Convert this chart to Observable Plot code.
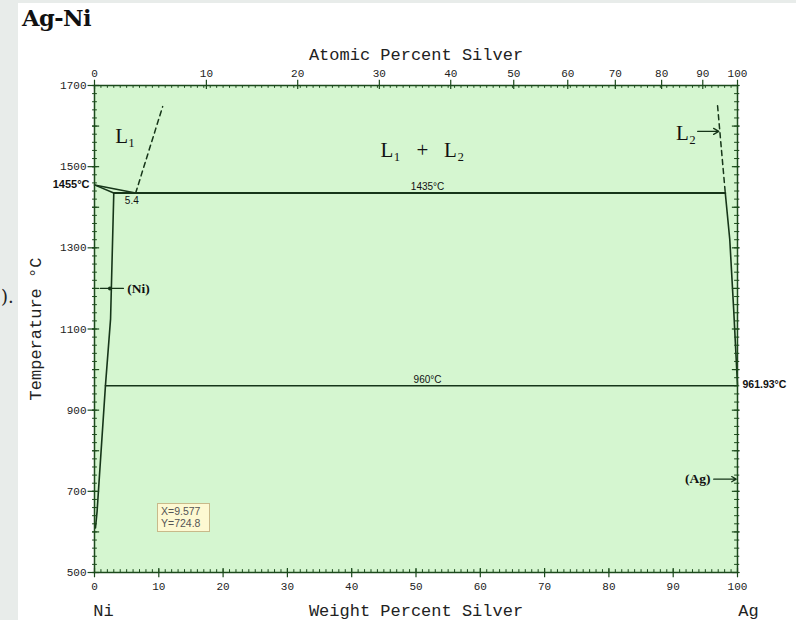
<!DOCTYPE html>
<html>
<head>
<meta charset="utf-8">
<script src="https://cdn.jsdelivr.net/npm/d3@7"></script>
<script src="https://cdn.jsdelivr.net/npm/@observablehq/plot@0.6"></script>
<style>
  html, body { margin: 0; padding: 0; background: #ffffff; }
  #wrap { position: relative; width: 796px; height: 620px; overflow: hidden; background: #ffffff; }
  #strip { position: absolute; left: 0; top: 0; width: 18px; height: 620px; background: #e8ecea; }
  #strip2 { position: absolute; left: 0; top: 0; width: 796px; height: 3px; background: #e8ecea; }
  #frag { position: absolute; left: 1px; top: 286px; font: 18px "DejaVu Serif"; color: #222; }
  #title { position: absolute; left: 22px; top: 5px; font: bold 22.5px "DejaVu Serif"; color: #111; letter-spacing: -0.5px; }
  #tip { position: absolute; left: 157px; top: 503px; width: 45px; padding: 2px 3px; background: #fdf9d2; border: 1px solid #c8b98a;
         font: 10.5px "Liberation Sans"; line-height: 11.5px; color: #555; }
  #chart { position: absolute; left: 0; top: 0; }
</style>
</head>
<body>
<div id="wrap">
  <div id="strip"></div>
  <div id="strip2"></div>
  <div id="frag">).</div>
  <div id="chart"></div>
  <div id="title">Ag-Ni</div>
  <div id="tip">X=9.577<br>Y=724.8</div>
</div>
<script>
// ---- axis ticks and labels ----
const wtTicks = [0, 10, 20, 30, 40, 50, 60, 70, 80, 90, 100];
const tempLabels = [500, 700, 900, 1100, 1300, 1500, 1700];
const tempMajor = [500, 600, 700, 800, 900, 1000, 1100, 1200, 1300, 1400, 1500, 1600, 1700];
const atomicLabels = [0, 10, 20, 30, 40, 50, 60, 70, 80, 90, 100];
const atomicAtWt = [0, 17.4, 31.6, 44.3, 55.4, 65.2, 73.6, 81.0, 88.2, 94.6, 100];

// ---- phase boundaries (weight % Ag, °C) ----
const niLiquidus = [[0, 1455], [6.4, 1435]];
const niSolidus = [[0, 1455], [3.0, 1435]];
const l1Boundary = [[6.4, 1435], [10.6, 1648]];
const monotectic = [[3.0, 1435], [98.1, 1435]];
const eutectic = [[1.7, 960], [100, 960]];
const niSolvus = [[3.0, 1435], [2.5, 1125], [1.7, 960], [0.4, 650], [0.15, 610]];
const l2Boundary = [[96.9, 1650], [98.1, 1435]];
const agLiquidus = [[98.1, 1435], [98.8, 1320], [99.4, 1150], [100, 962]];

// ---- annotations ----
const niPoint = [[4.5, 1200], [2.4, 1200], [0.9, 1200]];
const l2Arrow = [[93.8, 1587], [97.1, 1587]];
const agArrow = [[96.3, 730], [99.8, 730]];

const frameColor = "#1c4a1c";
const lineColor = "#163519";
const mono = "Liberation Mono";
const serif = "Liberation Serif, DejaVu Serif";
const sans = "Liberation Sans";

const xs = d => d[0], ys = d => d[1];

const chart = Plot.plot({
  width: 796,
  height: 620,
  marginLeft: 94,
  marginRight: 59,
  marginTop: 85,
  marginBottom: 48,
  style: { background: "transparent", overflow: "visible" },
  x: { domain: [0, 100], axis: null },
  y: { domain: [500, 1700], axis: null },
  marks: [
    Plot.frame({ fill: "#d5f6d0", stroke: "none" }),
    // boundaries
    Plot.line(niLiquidus, { x: xs, y: ys, stroke: lineColor, strokeWidth: 1.5 }),
    Plot.line(niSolidus, { x: xs, y: ys, stroke: lineColor, strokeWidth: 1.5 }),
    Plot.line(l1Boundary, { x: xs, y: ys, stroke: lineColor, strokeWidth: 1.5, strokeDasharray: "5,4" }),
    Plot.line(monotectic, { x: xs, y: ys, stroke: lineColor, strokeWidth: 2 }),
    Plot.line(eutectic, { x: xs, y: ys, stroke: lineColor, strokeWidth: 1.6 }),
    Plot.line(niSolvus, { x: xs, y: ys, stroke: lineColor, strokeWidth: 1.6 }),
    Plot.line(l2Boundary, { x: xs, y: ys, stroke: lineColor, strokeWidth: 1.5, strokeDasharray: "5,4" }),
    Plot.line(agLiquidus, { x: xs, y: ys, stroke: lineColor, strokeWidth: 1.6 }),
    // annotation arrows
    Plot.line(niPoint, { x: xs, y: ys, stroke: lineColor, strokeWidth: 1.2 }),
    Plot.dot([niPoint[1]], { x: xs, y: ys, r: 2, fill: lineColor }),
    Plot.arrow([l2Arrow], { x1: d => d[0][0], y1: d => d[0][1], x2: d => d[1][0], y2: d => d[1][1], stroke: lineColor, strokeWidth: 1.3, headLength: 7 }),
    Plot.arrow([agArrow], { x1: d => d[0][0], y1: d => d[0][1], x2: d => d[1][0], y2: d => d[1][1], stroke: lineColor, strokeWidth: 1.3, headLength: 6 }),
    // frame
    Plot.frame({ stroke: frameColor, strokeWidth: 1.5 }),
    // bottom ticks
    Plot.ruleX(d3.range(0, 101, 1), { y1: 500, y2: 507, stroke: frameColor, strokeWidth: 1 }),
    Plot.ruleX(wtTicks, { y1: 487, y2: 510, stroke: frameColor, strokeWidth: 1.2 }),
    // top ticks
    Plot.ruleX(d3.range(0, 101, 1), { y1: 1700, y2: 1693, stroke: frameColor, strokeWidth: 1 }),
    Plot.ruleX(atomicAtWt, { y1: 1690, y2: 1713, stroke: frameColor, strokeWidth: 1.2 }),
    // left ticks
    Plot.ruleY(d3.range(500, 1701, 20), { x1: -0.3, x2: 0.45, stroke: frameColor, strokeWidth: 1 }),
    Plot.ruleY(tempMajor, { x1: -0.3, x2: 0.8, stroke: frameColor, strokeWidth: 1.2 }),
    Plot.ruleY(tempLabels, { x1: -1.0, x2: 0, stroke: frameColor, strokeWidth: 1.2 }),
    // right ticks
    Plot.ruleY(d3.range(500, 1701, 20), { x1: 99.55, x2: 100.35, stroke: frameColor, strokeWidth: 1 }),
    Plot.ruleY(tempMajor, { x1: 99.2, x2: 100.4, stroke: frameColor, strokeWidth: 1.2 }),
    // tick labels
    Plot.text(tempLabels, { x: 0, y: d => d, text: d => String(d), dx: -8, textAnchor: "end", fontFamily: mono, fontSize: 11, fill: "#222" }),
    Plot.text(wtTicks, { x: d => d, y: 500, text: d => String(d), dy: 14, fontFamily: mono, fontSize: 11, fill: "#222" }),
    Plot.text(atomicLabels, { x: (d, i) => atomicAtWt[i], y: 1700, text: d => String(d), dy: -12, fontFamily: mono, fontSize: 11, fill: "#222" }),
    // axis titles
    Plot.text(["Atomic Percent Silver"], { x: 50, y: 1700, dy: -31, fontFamily: mono, fontSize: 17, fill: "#222" }),
    Plot.text(["Weight Percent Silver"], { x: 50, y: 500, dy: 38, fontFamily: mono, fontSize: 17, fill: "#222" }),
    Plot.text(["Temperature °C"], { x: 0, y: 1100, dx: -59, rotate: -90, fontFamily: mono, fontSize: 17, fill: "#222" }),
    Plot.text(["Ni"], { x: 1.4, y: 500, dy: 38, fontFamily: mono, fontSize: 17, fill: "#222" }),
    Plot.text(["Ag"], { x: 101.7, y: 500, dy: 38, fontFamily: mono, fontSize: 17, fill: "#222" }),
    // temperature annotations
    Plot.text(["1455°C"], { x: 0, y: 1455, dx: -5, textAnchor: "end", fontFamily: sans, fontWeight: "bold", fontSize: 11, fill: "#111" }),
    Plot.text(["961.93°C"], { x: 100, y: 962, dx: 5, textAnchor: "start", fontFamily: sans, fontWeight: "bold", fontSize: 10.5, fill: "#111" }),
    Plot.text(["1435°C"], { x: 51.8, y: 1435, dy: -6, fontFamily: sans, fontSize: 10, fill: "#111" }),
    Plot.text(["960°C"], { x: 51.8, y: 960, dy: -6, fontFamily: sans, fontSize: 10, fill: "#111" }),
    Plot.text(["5.4"], { x: 5.8, y: 1435, dy: 8, fontFamily: sans, fontSize: 10, fill: "#111" }),
    // phase labels
    Plot.text(["L₁"], { x: 4.8, y: 1574, fontFamily: serif, fontSize: 21, fill: "#111" }),
    Plot.text(["L₁   +   L₂"], { x: 51, y: 1540, fontFamily: serif, fontSize: 21, fill: "#111" }),
    Plot.text(["L₂"], { x: 92.0, y: 1582, fontFamily: serif, fontSize: 21, fill: "#111" }),
    Plot.text(["(Ni)"], { x: 5.1, y: 1200, textAnchor: "start", fontFamily: serif, fontWeight: "bold", fontSize: 13.5, fill: "#111" }),
    Plot.text(["(Ag)"], { x: 95.8, y: 730, textAnchor: "end", fontFamily: serif, fontWeight: "bold", fontSize: 13.5, fill: "#111" })
  ]
});
document.getElementById("chart").appendChild(chart);
</script>
</body>
</html>
